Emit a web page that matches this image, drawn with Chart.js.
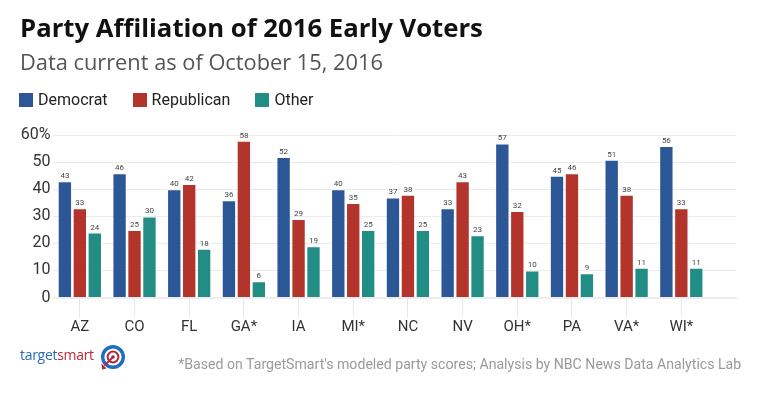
<!DOCTYPE html>
<html>
<head>
<meta charset="utf-8">
<script src="https://cdn.jsdelivr.net/npm/chart.js@4.4.0/dist/chart.umd.min.js"></script>
<style>
  html, body { margin: 0; padding: 0; background: #fff; }
  #wrap { position: relative; width: 760px; height: 399px; overflow: hidden; background: #fff; }
  #c { position: absolute; left: 0; top: 0; }
  .title { position: absolute; left: 20px; top: 16px; margin: 0; font: 700 24.5px/1 "Open Sans", sans-serif; color: #111; white-space: nowrap; }
  .subtitle { position: absolute; left: 20px; top: 51px; margin: 0; font: 400 21px/1 "Open Sans", sans-serif; color: #555; white-space: nowrap; }
  .legend { position: absolute; left: 19px; top: 92px; display: flex; align-items: center; font: 400 16px/16px Roboto, sans-serif; color: #222; white-space: nowrap; }
  .legend .item { display: flex; align-items: center; margin-right: 25px; }
  .legend .sw { width: 14px; height: 14px; margin-right: 5px; display: inline-block; }
  .logo { position: absolute; left: 20px; top: 348px; font: 400 14px/1 "Open Sans", sans-serif; white-space: nowrap; letter-spacing: -0.3px; }
  .logo .t { color: #2a6bb5; }
  .logo .s { color: #c0283c; }
  .icon { position: absolute; left: 99px; top: 343px; }
  .note { position: absolute; right: 19px; top: 357px; font: 400 15px/1 Roboto, sans-serif; color: #9a9a9a; white-space: nowrap; transform-origin: right center; }
</style>
</head>
<body>
<div id="wrap">
  <canvas id="c" width="760" height="399"></canvas>
  <div class="title" id="title">Party Affiliation of 2016 Early Voters</div>
  <div class="subtitle" id="subtitle">Data current as of October 15, 2016</div>
  <div class="legend" id="legend"></div>
  <div class="logo"><span class="t">target</span><span class="s">smart</span></div>
  <svg class="icon" width="28" height="28" viewBox="0 0 28 28">
    <circle cx="14" cy="14" r="10.3" fill="none" stroke="#1d6fc2" stroke-width="3.4"/>
    <circle cx="14" cy="14" r="5.4" fill="none" stroke="#b0283a" stroke-width="2"/>
    <circle cx="14" cy="14" r="1.8" fill="#b0283a"/>
    <line x1="14" y1="14" x2="5.5" y2="22.5" stroke="#b0283a" stroke-width="1.8"/>
    <path d="M2.5 20.5 L7.5 25.5 L3 26.5 Z" fill="#b0283a"/>
  </svg>
  <div class="note" id="note">*Based on TargetSmart's modeled party scores; Analysis by NBC News Data Analytics Lab</div>
</div>
<script>
// ---- data ----
const categories = ['AZ', 'CO', 'FL', 'GA*', 'IA', 'MI*', 'NC', 'NV', 'OH*', 'PA', 'VA*', 'WI*'];
const democrat   = [43, 46, 40, 36, 52, 40, 37, 33, 57, 45, 51, 56];
const republican = [33, 25, 42, 58, 29, 35, 38, 43, 32, 46, 38, 33];
const other      = [24, 30, 18,  6, 19, 25, 25, 23, 10,  9, 11, 11];
const yTickValues = [0, 10, 20, 30, 40, 50, 60];
const seriesNames = ['Democrat', 'Republican', 'Other'];
const seriesColors = ['#2b5797', '#b3342b', '#218d84'];

// ---- fit heading widths to the reference layout ----
function fitText(id, targetWidth, baselineY) {
  const el = document.getElementById(id);
  const fs = parseFloat(getComputedStyle(el).fontSize);
  const w = el.getBoundingClientRect().width;
  const nfs = fs * targetWidth / w;
  el.style.fontSize = nfs + 'px';
  el.style.top = (baselineY - 0.888 * nfs) + 'px';
}
fitText('title', 463, 38.3);
fitText('subtitle', 363, 70);
(function () {
  const el = document.getElementById('note');
  const w = el.getBoundingClientRect().width;
  el.style.transform = 'scaleX(' + (563 / w) + ')';
})();

// ---- legend (HTML) ----
const legendEl = document.getElementById('legend');
seriesNames.forEach((name, i) => {
  const item = document.createElement('span');
  item.className = 'item';
  const sw = document.createElement('span');
  sw.className = 'sw';
  sw.style.background = seriesColors[i];
  item.appendChild(sw);
  item.appendChild(document.createTextNode(name));
  legendEl.appendChild(item);
});

const axisFont = 'Roboto, sans-serif';

const valueLabels = {
  id: 'valueLabels',
  afterDatasetsDraw(chart) {
    const ctx = chart.ctx;
    ctx.save();
    ctx.font = '8px Roboto, sans-serif';
    ctx.fillStyle = '#444';
    ctx.textAlign = 'center';
    ctx.textBaseline = 'alphabetic';
    chart.data.datasets.forEach((ds, di) => {
      chart.getDatasetMeta(di).data.forEach((el, i) => {
        ctx.fillText(String(ds.data[i].y), el.x, el.y - 3);
      });
    });
    ctx.restore();
  }
};

const seriesValues = [democrat, republican, other];
const datasets = seriesNames.map((name, s) => ({
  label: name,
  data: categories.map((c, i) => ({ x: i, y: seriesValues[s][i] })),
  backgroundColor: seriesColors[s],
  borderColor: 'rgba(255,255,255,0.45)',
  borderWidth: 1,
  categoryPercentage: 0.82,
  barPercentage: 0.96
}));

new Chart(document.getElementById('c'), {
  type: 'bar',
  data: { datasets },
  options: {
    responsive: false,
    animation: false,
    events: [],
    layout: { padding: { left: 0, right: 24, top: 135.3, bottom: 61.5 } },
    plugins: { legend: { display: false }, tooltip: { enabled: false }, title: { display: false } },
    scales: {
      x: {
        type: 'linear',
        min: -0.5,
        max: 12,
        offset: false,
        afterBuildTicks: (s) => { s.ticks = categories.map((c, i) => ({ value: i })); },
        afterFit: (s) => { s.height = 40; },
        grid: { offset: false, drawOnChartArea: false, drawTicks: true, tickLength: 20, color: '#e6e6e6', lineWidth: 1 },
        border: { display: true, color: '#ededed', width: 2 },
        ticks: {
          autoSkip: false, maxRotation: 0, minRotation: 0, padding: 1,
          color: '#333', font: { family: axisFont, size: 15 },
          callback: (v) => categories[v] !== undefined ? categories[v] : ''
        }
      },
      y: {
        min: 0,
        max: 60,
        afterBuildTicks: (s) => { s.ticks = yTickValues.map(v => ({ value: v })); },
        afterFit: (s) => { s.width = 52.5; },
        grid: { color: '#ebebeb', lineWidth: 1, drawTicks: false },
        border: { display: false },
        ticks: {
          padding: 2, color: '#333', font: { family: axisFont, size: 16 },
          callback: (v) => v === 60 ? '60%' : String(v)
        }
      }
    }
  },
  plugins: [valueLabels]
});
</script>
</body>
</html>
